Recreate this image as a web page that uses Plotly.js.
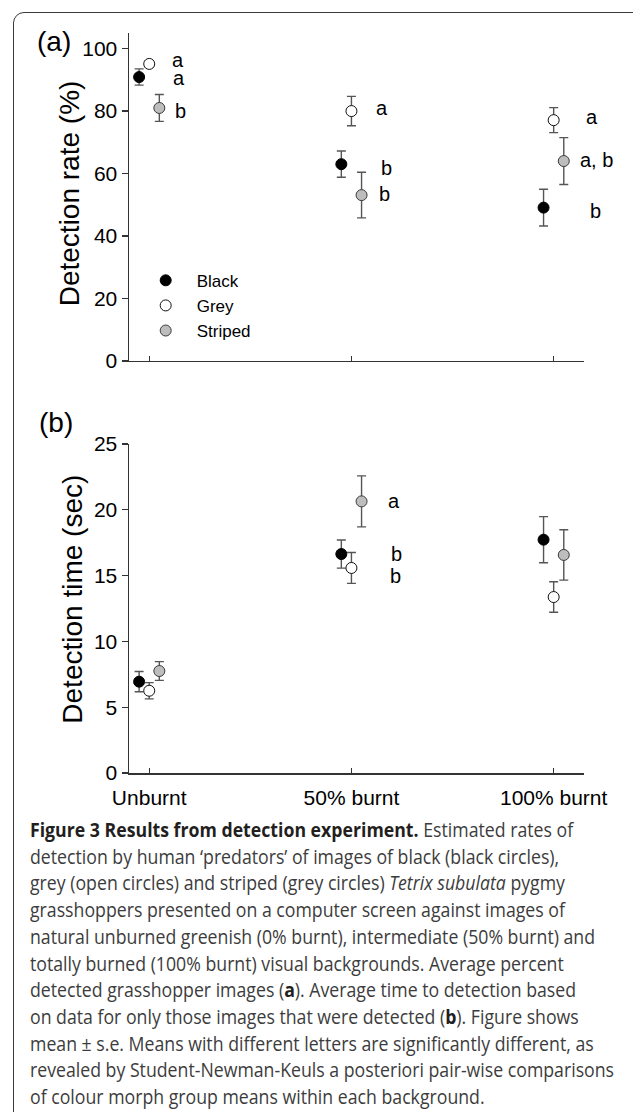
<!DOCTYPE html>
<html><head><meta charset="utf-8">
<script src="https://cdn.plot.ly/plotly-3.0.1.min.js"></script>
<style>
html,body{margin:0;padding:0;width:633px;height:1112px;overflow:hidden;background:#fff;}
#chart{position:absolute;left:0;top:0;width:633px;height:1112px;}
#frame{position:absolute;left:13px;top:12px;width:700px;height:1200px;border:1.5px solid #3a3a3a;border-radius:11px;pointer-events:none;}
#cap{position:absolute;left:30px;top:817px;font-family:'Open Sans',sans-serif;font-size:20px;line-height:26.7px;color:#3c3c3c;white-space:nowrap;transform-origin:0 0;transform:scaleX(0.885);}
#cap b{color:#231f20;}
</style></head>
<body>
<div id="chart"></div>
<div id="cap">
<div><b>Figure 3 Results from detection experiment.</b> Estimated rates of</div>
<div>detection by human ‘predators’ of images of black (black circles),</div>
<div>grey (open circles) and striped (grey circles) <i>Tetrix subulata</i> pygmy</div>
<div>grasshoppers presented on a computer screen against images of</div>
<div>natural unburned greenish (0% burnt), intermediate (50% burnt) and</div>
<div>totally burned (100% burnt) visual backgrounds. Average percent</div>
<div>detected grasshopper images (<b>a</b>). Average time to detection based</div>
<div>on data for only those images that were detected (<b>b</b>). Figure shows</div>
<div>mean ± s.e. Means with different letters are significantly different, as</div>
<div>revealed by Student-Newman-Keuls a posteriori pair-wise comparisons</div>
<div>of colour morph group means within each background.</div>
</div>
<div id="frame"></div>
<script>
// ---- data ----
const categories = ['Unburnt', '50% burnt', '100% burnt'];
const morphs = ['Black', 'Grey', 'Striped'];

const rateBlack = [90.9, 63.0, 49.1];
const rateBlackSE = [2.6, 4.2, 5.9];
const rateGrey = [95.1, 80.0, 77.1];
const rateGreySE = [1.0, 4.7, 4.0];
const rateStriped = [81.0, 53.1, 64.0];
const rateStripedSE = [4.3, 7.3, 7.5];

const timeBlack = [6.94, 16.64, 17.73];
const timeBlackSE = [0.77, 1.07, 1.75];
const timeGrey = [6.25, 15.58, 13.37];
const timeGreySE = [0.62, 1.17, 1.16];
const timeStriped = [7.75, 20.64, 16.57];
const timeStripedSE = [0.71, 1.94, 1.91];

const rateLetters = {Black: ['a', 'b', 'b'], Grey: ['a', 'a', 'a'], Striped: ['b', 'b', 'a, b']};
const timeLetters = {Black: ['', 'b', ''], Grey: ['', 'b', ''], Striped: ['', 'a', '']};

const rateTitle = 'Detection rate (%)';
const timeTitle = 'Detection time (sec)';

// ---- styles ----
const FONT = 'Arial, "Liberation Sans", sans-serif';
const markerStyle = {
  Black: {color: '#000000', line: {color: '#000000', width: 1}},
  Grey: {color: '#ffffff', line: {color: '#111111', width: 1}},
  Striped: {color: '#bdbdbd', line: {color: '#3a3a3a', width: 1}}
};
const seriesOffset = {Black: -0.05, Grey: 0, Striped: 0.05};
const letterShiftA = {
  Black: {dx: [29.7, 34.7, 41.6], dy: [-1.3, -3.7, -3.7]},
  Grey: {dx: [29, 30.4, 38], dy: [4, 3.4, 3]},
  Striped: {dx: [31.4, 33, 42.6], dy: [-3.3, 0.7, 1]}
};
const letterShiftB = {
  Black: {dx: [0, 45, 0], dy: [0, 0, 0]},
  Grey: {dx: [0, 44, 0], dy: [0, -7.7, 0]},
  Striped: {dx: [0, 43, 0], dy: [0, 0.4, 0]}
};

const rateData = {Black: [rateBlack, rateBlackSE], Grey: [rateGrey, rateGreySE], Striped: [rateStriped, rateStripedSE]};
const timeData = {Black: [timeBlack, timeBlackSE], Grey: [timeGrey, timeGreySE], Striped: [timeStriped, timeStripedSE]};

const traces = [];
const annotations = [];
function addPanel(dataset, letters, shifts, xa, ya, legend) {
  morphs.forEach(m => {
    const [vals, se] = dataset[m];
    const xs = categories.map((c, i) => i + seriesOffset[m]);
    traces.push({
      type: 'scatter', mode: 'markers', name: m,
      x: xs, y: vals, xaxis: xa, yaxis: ya, showlegend: legend,
      marker: Object.assign({size: 11, symbol: 'circle'}, markerStyle[m]),
      error_y: {type: 'data', array: se, visible: true, color: '#555555', thickness: 1.4, width: 4.5},
      cliponaxis: false
    });
    letters[m].forEach((t, i) => {
      if (!t) return;
      annotations.push({
        xref: xa, yref: ya, x: i, y: vals[i], text: t, showarrow: false,
        xanchor: 'center', yanchor: 'middle',
        xshift: shifts[m].dx[i], yshift: shifts[m].dy[i],
        font: {family: FONT, size: 20, color: '#000'}
      });
    });
  });
}
addPanel(rateData, rateLetters, letterShiftA, 'x', 'y', true);
addPanel(timeData, timeLetters, letterShiftB, 'x2', 'y2', false);

const bigFont = {family: FONT, size: 28, color: '#000'};
annotations.push({xref: 'paper', yref: 'paper', x: -0.165, y: 0.988, text: '(a)', showarrow: false,
  xanchor: 'center', yanchor: 'middle', font: bigFont});
annotations.push({xref: 'paper', yref: 'paper', x: -0.160, y: 0.473, text: '(b)', showarrow: false,
  xanchor: 'center', yanchor: 'middle', font: bigFont});
// y-axis titles
annotations.push({xref: 'paper', yref: 'paper', x: -0.1303, y: 0.783, text: rateTitle, showarrow: false,
  textangle: -90, xanchor: 'center', yanchor: 'middle', font: bigFont});
annotations.push({xref: 'paper', yref: 'paper', x: -0.124, y: 0.235, text: timeTitle, showarrow: false,
  textangle: -90, xanchor: 'center', yanchor: 'middle', font: bigFont});

const axisCommon = {
  showline: true, linecolor: '#333', linewidth: 1.5, showgrid: false, zeroline: false,
  tickcolor: '#333', tickwidth: 1.2, tickfont: {family: FONT, size: 21, color: '#000'}
};
const layout = {
  width: 633, height: 1112,
  margin: {l: 129, r: 49, t: 33, b: 339},
  paper_bgcolor: 'rgba(0,0,0,0)', plot_bgcolor: 'rgba(0,0,0,0)',
  font: {family: FONT, color: '#000'},
  showlegend: true,
  legend: {x: 0.0125, y: 0.6895, xanchor: 'left', yanchor: 'top', bgcolor: 'rgba(0,0,0,0)',
    itemwidth: 52, font: {family: FONT, size: 17, color: '#000'}, tracegroupgap: 0},
  xaxis: Object.assign({}, axisCommon, {domain: [0, 1], anchor: 'y', range: [-0.1, 2.15],
    tickvals: [0, 1, 2], ticktext: categories, showticklabels: false, ticks: 'inside', ticklen: 5}),
  yaxis: Object.assign({}, axisCommon, {domain: [0.5568, 1], anchor: 'x', range: [0, 105],
    tickvals: [0, 20, 40, 60, 80, 100], ticks: 'outside', ticklen: 6}),
  xaxis2: Object.assign({}, axisCommon, {domain: [0, 1], anchor: 'y2', range: [-0.1, 2.15],
    tickvals: [0, 1, 2], ticktext: categories, showticklabels: true, ticks: 'inside', ticklen: 5,
    ticklabelstandoff: 5}),
  yaxis2: Object.assign({}, axisCommon, {domain: [0, 0.4446], anchor: 'x2', range: [0, 25],
    tickvals: [0, 5, 10, 15, 20, 25], ticks: 'outside', ticklen: 6}),
  annotations: annotations
};
Plotly.newPlot('chart', traces, layout, {staticPlot: true, displayModeBar: false});
</script>
</body></html>
